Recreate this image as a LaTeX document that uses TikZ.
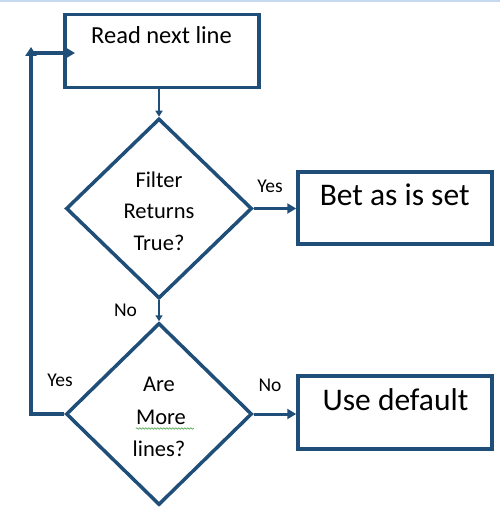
\documentclass[tikz,border=0pt]{standalone}
\usepackage{fontspec}
\setmainfont{Carlito}
\usetikzlibrary{shapes.geometric,arrows.meta,decorations.pathmorphing}
\definecolor{fcblue}{RGB}{31,78,121}
\definecolor{topband}{RGB}{197,217,241}
\definecolor{spellgreen}{RGB}{90,170,90}
\tikzset{
  boxnode/.style={draw=fcblue, line width=3.5pt, rectangle, minimum width=194pt, inner sep=0pt},
  decnode/.style={draw=fcblue, line width=3.5pt, diamond, inner sep=0pt},
  txt/.style={anchor=base, inner sep=0pt, text=black},
  bigtxt/.style={txt, font=\fontsize{24.5}{29}\selectfont},
  hugetxt/.style={txt, font=\fontsize{31.5}{37}\selectfont},
  dtxt/.style={txt, font=\fontsize{22.5}{27}\selectfont},
  lbl/.style={txt, font=\fontsize{19.5}{23}\selectfont},
  thinarrow/.style={draw=fcblue, line width=2pt, -{Triangle[length=6pt,width=7pt]}},
  thickarrow/.style={draw=fcblue, line width=3pt, -{Triangle[length=9pt,width=10pt]}},
  loopline/.style={draw=fcblue, line width=3.5pt}
}
\begin{document}
\begin{tikzpicture}[x=1pt,y=-1pt]
\useasboundingbox (0,0) rectangle (500,513);
\fill[topband] (0,0) rectangle (500,2.5);

% boxes
\node[boxnode, minimum height=73pt] (read) at (162,51) {};
\node[boxnode, minimum height=72pt] (bet) at (395,208) {};
\node[boxnode, minimum height=73pt] (use) at (395,412.5) {};

% diamonds
\node[decnode, minimum width=186pt, minimum height=180pt] (filter) at (159,208.5) {};
\node[decnode, minimum width=186pt, minimum height=182pt] (more) at (159,414) {};

% texts
\node[bigtxt] (treadtxt) at (161.5,43.5) {Read next line};
\node[hugetxt] (tbettxt) at (394.7,205) {Bet as is set};
\node[hugetxt] (tusetxt) at (395.5,410.7) {Use default};
\node[dtxt] (tf1) at (159,187.3) {Filter};
\node[dtxt] (tf2) at (159,218.5) {Returns};
\node[dtxt] (tf3) at (159,250.5) {True?};
\node[dtxt] (tm1) at (159,391.7) {Are};
\node[dtxt] (tm2) at (161,424) {More};
\node[dtxt] (tm3) at (159,456.7) {lines?};

% spell-check underline
\draw[spellgreen, line width=0.7pt, decorate, decoration={snake, amplitude=0.7pt, segment length=3pt}]
  (tm2.base west) ++(0,4.5) -- ++(58,0);

% labels
\node[lbl] (lyes1) at (270,192.3) {Yes};
\node[lbl] (lno1) at (125.5,316) {No};
\node[lbl] (lyes2) at (60,386.7) {Yes};
\node[lbl] (lno2) at (270,391.7) {No};

% connectors
\draw[thinarrow] (read.south -| filter.north) -- (filter.north);
\draw[thickarrow] (filter.east) -- (filter.east -| bet.west);
\draw[thinarrow] (filter.south) -- (more.north);
\draw[thickarrow] (more.east) -- (more.east -| use.west);

\coordinate (loopcorner) at (31,414);
\coordinate (looptop) at (31,47);
\coordinate (loopjoin) at (31,53);
\coordinate (loopend) at (75,53);
\draw[loopline, -{Triangle[length=9pt,width=11pt]}] (more.west) -- (loopcorner) -- (looptop);
\draw[loopline, -{Triangle[length=9pt,width=10pt]}] (loopjoin) -- (loopend);
\end{tikzpicture}
\end{document}
